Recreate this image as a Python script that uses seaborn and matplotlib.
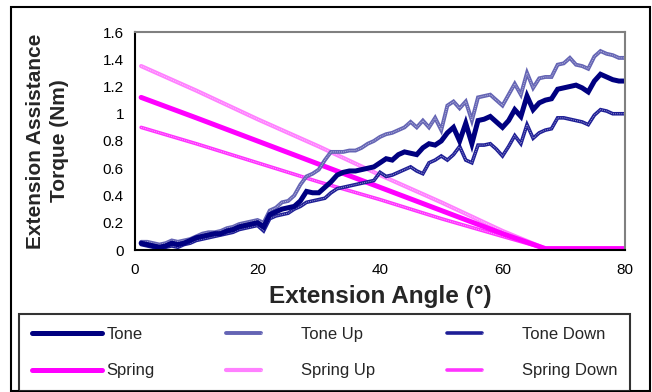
import matplotlib
matplotlib.use("Agg")
import matplotlib.pyplot as plt
from matplotlib.patches import Rectangle
from matplotlib.legend_handler import HandlerTuple
import seaborn as sns
import pandas as pd

# extension angle (deg), one sample per degree for the tone curves
angle = list(range(1, 81))

tone = [0.05, 0.04, 0.03, 0.02, 0.03, 0.05, 0.04, 0.05, 0.07, 0.09,
        0.10, 0.11, 0.12, 0.12, 0.14, 0.15, 0.17, 0.18, 0.19, 0.20,
        0.17, 0.26, 0.28, 0.30, 0.31, 0.32, 0.36, 0.43, 0.42, 0.42,
        0.46, 0.50, 0.55, 0.57, 0.58, 0.58, 0.59, 0.60, 0.61, 0.64,
        0.67, 0.66, 0.70, 0.72, 0.71, 0.70, 0.75, 0.78, 0.77, 0.80,
        0.86, 0.90, 0.80, 0.93, 0.78, 0.95, 0.96, 0.98, 0.94, 0.90,
        0.95, 1.03, 0.98, 1.13, 1.03, 1.08, 1.10, 1.11, 1.18, 1.19,
        1.20, 1.21, 1.19, 1.16, 1.24, 1.29, 1.27, 1.25, 1.24, 1.24]

tone_up = [0.06, 0.06, 0.05, 0.04, 0.05, 0.07, 0.06, 0.07, 0.08, 0.10,
           0.12, 0.13, 0.13, 0.14, 0.16, 0.17, 0.19, 0.20, 0.21, 0.22,
           0.20, 0.29, 0.31, 0.35, 0.36, 0.40, 0.48, 0.54, 0.56, 0.59,
           0.66, 0.72, 0.72, 0.72, 0.73, 0.73, 0.75, 0.78, 0.80, 0.83,
           0.85, 0.86, 0.88, 0.90, 0.94, 0.90, 0.95, 0.90, 0.97, 0.88,
           1.06, 1.09, 1.04, 1.09, 0.95, 1.12, 1.13, 1.14, 1.10, 1.06,
           1.14, 1.22, 1.14, 1.30, 1.19, 1.26, 1.27, 1.27, 1.36, 1.37,
           1.41, 1.36, 1.35, 1.33, 1.42, 1.46, 1.44, 1.43, 1.41, 1.41]

tone_down = [0.04, 0.03, 0.02, 0.01, 0.02, 0.03, 0.02, 0.04, 0.05, 0.07,
             0.08, 0.09, 0.10, 0.11, 0.12, 0.13, 0.15, 0.16, 0.17, 0.18,
             0.14, 0.23, 0.25, 0.26, 0.27, 0.30, 0.32, 0.35, 0.36, 0.37,
             0.38, 0.42, 0.45, 0.46, 0.47, 0.48, 0.49, 0.50, 0.51, 0.57,
             0.54, 0.55, 0.57, 0.59, 0.61, 0.58, 0.56, 0.64, 0.66, 0.69,
             0.66, 0.70, 0.76, 0.66, 0.64, 0.77, 0.77, 0.78, 0.74, 0.69,
             0.76, 0.84, 0.78, 0.92, 0.82, 0.86, 0.88, 0.89, 0.97, 0.97,
             0.96, 0.95, 0.94, 0.92, 0.99, 1.03, 1.02, 1.00, 1.00, 1.00]

# spring curves are straight, read at a few angles
spring_angle = [1, 10, 20, 30, 40, 50, 60, 67, 80]
spring = [1.12, 0.97, 0.80, 0.63, 0.46, 0.29, 0.12, 0.01, 0.01]
spring_up = [1.35, 1.17, 0.96, 0.76, 0.55, 0.35, 0.14, 0.01, 0.01]
spring_down = [0.90, 0.78, 0.64, 0.50, 0.37, 0.23, 0.10, 0.01, 0.01]

df_tone = pd.DataFrame({'Angle': angle, 'Tone': tone,
                        'Tone Up': tone_up, 'Tone Down': tone_down})
df_spring = pd.DataFrame({'Angle': spring_angle, 'Spring': spring,
                          'Spring Up': spring_up, 'Spring Down': spring_down})

sns.set_style("white")
plt.rcParams['font.family'] = ['Liberation Sans', 'DejaVu Sans']

fig = plt.figure(figsize=(6.52, 3.92), dpi=100)
ax = fig.add_axes([135 / 652, 1 - 250 / 392, 490 / 652, 218 / 392])

# (column, frame, color, width, textured)
styles = [
    ('Spring Up', df_spring, '#FF80FF', 3.0, True),
    ('Spring Down', df_spring, '#FF33FF', 2.6, True),
    ('Spring', df_spring, '#FF00FF', 3.6, False),
    ('Tone Up', df_tone, '#6464B4', 2.8, True),
    ('Tone Down', df_tone, '#1E1E96', 2.6, True),
    ('Tone', df_tone, '#000080', 3.6, False),
]

handles = {}
for name, d, col, lw, textured in styles:
    sns.lineplot(data=d, x='Angle', y=name, ax=ax, color=col, linewidth=lw,
                 solid_joinstyle='miter')
    base = ax.lines[-1]
    if textured:
        sns.lineplot(data=d, x='Angle', y=name, ax=ax, color='white',
                     linewidth=0.7, alpha=0.55, linestyle=(0, (1, 1)))
        handles[name] = (base, ax.lines[-1])
    else:
        handles[name] = base

ax.set_xlim(0, 80)
ax.set_ylim(0, 1.6)
ax.set_xticks([0, 20, 40, 60, 80])
ax.set_yticks([0, 0.2, 0.4, 0.6, 0.8, 1.0, 1.2, 1.4, 1.6])
ax.set_yticklabels(['0', '0.2', '0.4', '0.6', '0.8', '1', '1.2', '1.4', '1.6'])
ax.tick_params(axis='both', direction='out', length=5, width=1.2,
               labelsize=11, colors='black', pad=4)
ax.tick_params(axis='y', pad=3)

for s in ['left', 'bottom']:
    ax.spines[s].set_color('black')
    ax.spines[s].set_linewidth(1.5)
for s in ['top', 'right']:
    ax.spines[s].set_color('#808080')
    ax.spines[s].set_linewidth(1.5)

ax.set_xlabel('Extension Angle (°)', fontsize=17.5, fontweight='bold', labelpad=6)
ax.set_ylabel('Extension Assistance\nTorque (Nm)', fontsize=15,
              fontweight='bold', labelpad=24, linespacing=1.35)

order = ['Tone', 'Spring', 'Tone Up', 'Spring Up', 'Tone Down', 'Spring Down']
leg = fig.legend([handles[n] for n in order], order, ncol=3,
                 loc='lower left', mode='expand',
                 bbox_to_anchor=(19 / 652, 1 / 392, 611 / 652, 76 / 392),
                 fontsize=12, frameon=True, fancybox=False,
                 handlelength=4.2, handletextpad=0.3, borderaxespad=0,
                 labelspacing=1.3, columnspacing=0.6, borderpad=0.75,
                 handler_map={tuple: HandlerTuple(ndivide=None, pad=0)})
leg.get_frame().set_edgecolor('black')
leg.get_frame().set_linewidth(1.5)

fig.patches.append(Rectangle((11 / 652, 1 / 392), 639 / 652, 384 / 392,
                             transform=fig.transFigure, fill=False,
                             edgecolor='black', linewidth=1.5))

fig.savefig('out.png', dpi=100)
